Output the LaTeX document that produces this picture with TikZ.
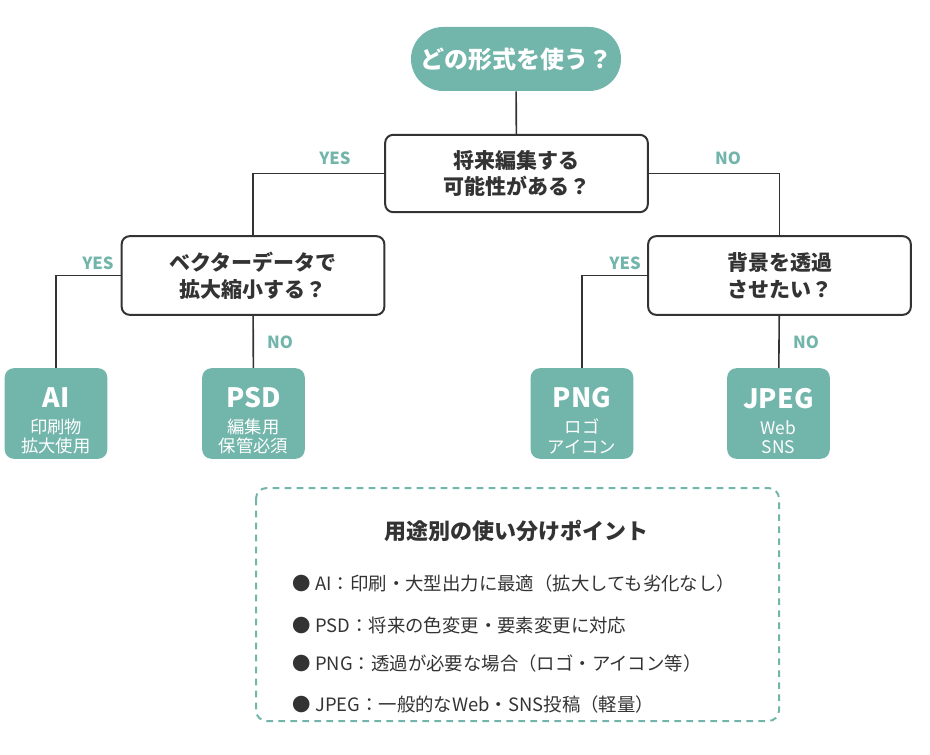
\documentclass[tikz,border=0pt]{standalone}
\usepackage{fontspec}
\newfontfamily\cjk{Noto Sans CJK JP}
\usetikzlibrary{positioning}
\definecolor{flowteal}{HTML}{72B5AA}
\definecolor{flowdark}{HTML}{333333}
\newcommand{\leafname}[1]{\rule{0pt}{26pt}{\bfseries\fontsize{20}{24}\selectfont #1}}

\begin{document}
\begin{tikzpicture}[
  x=0.75pt, y=-0.75pt,
  every node/.style={font=\cjk, text=flowdark},
  startbox/.style={rectangle, rounded corners=24pt, fill=flowteal, minimum width=157.5pt, minimum height=48pt, font=\cjk\bfseries\fontsize{18}{22}\selectfont, text=white},
  askbox/.style={rectangle, rounded corners=6pt, draw=flowdark, line width=1.5pt, fill=white, minimum width=197pt, minimum height=58pt, align=center, font=\cjk\bfseries\fontsize{15.75}{20}\selectfont},
  leafbox/.style={rectangle, rounded corners=7pt, fill=flowteal, minimum width=77pt, minimum height=68pt, align=center, text=white, font=\cjk\fontsize{13}{14.5}\selectfont},
  answer/.style={font=\cjk\bfseries\fontsize{12.5}{14}\selectfont, text=flowteal},
  link/.style={draw=flowdark, line width=1.2pt},
]
\useasboundingbox (0,0) rectangle (930,755);

\node[startbox] (start) at (516,59) {どの形式を使う？};

\node[askbox] (edit) at (516.5,173.5) {将来編集する\\可能性がある？};
\node[askbox, minimum height=59pt] (vector) at (253,275.5) {ベクターデータで\\拡大縮小する？};
\node[askbox, minimum height=59pt] (alpha) at (779.5,275.5) {背景を透過\\させたい？};

\node[leafbox] (ai) at (56,413.5) {\leafname{AI}\\[5pt]印刷物\\拡大使用};
\node[leafbox] (psd) at (253.5,413.5) {\leafname{PSD}\\[5pt]編集用\\保管必須};
\node[leafbox] (png) at (582,413.5) {\leafname{PNG}\\[5pt]ロゴ\\アイコン};
\node[leafbox] (jpeg) at (778.5,413.5) {\leafname{JPEG}\\[5pt]Web\\SNS};

% connectors
\draw[link] (start) -- (edit);
\draw[link] (edit.west) -| (vector.north);
\draw[link] (edit.east) -| (alpha.north);
\draw[link] (vector.west) -| (ai.north);
\draw[link] (vector) -- (psd);
\draw[link] (alpha.west) -| (png.north);
\draw[link] (alpha) -- (jpeg);

\node[answer] (yes1) at (335,158) {YES};
\node[answer] (no1) at (728,158) {NO};
\node[answer] (yes2) at (98,263) {YES};
\node[answer] (no2) at (280,342) {NO};
\node[answer] (yes3) at (625,263) {YES};
\node[answer] (no3) at (806,342) {NO};

% summary
\draw[draw=flowteal, line width=1.5pt, dash pattern=on 5pt off 4pt, rounded corners=8pt] (256,488) rectangle (779,721);
\node[font=\cjk\bfseries\fontsize{16.5}{20}\selectfont] (tiphead) at (516,531) {用途別の使い分けポイント};
\begin{scope}[every node/.style={font=\cjk\fontsize{13.8}{16}\selectfont, text=flowdark, anchor=west}]
\node (tipai) at (288,584) {● AI：印刷・大型出力に最適（拡大しても劣化なし）};
\node (tippsd) at (288,626) {● PSD：将来の色変更・要素変更に対応};
\node (tippng) at (288,664) {● PNG：透過が必要な場合（ロゴ・アイコン等）};
\node (tipjpeg) at (288,704) {● JPEG：一般的なWeb・SNS投稿（軽量）};
\end{scope}
\end{tikzpicture}
\end{document}
